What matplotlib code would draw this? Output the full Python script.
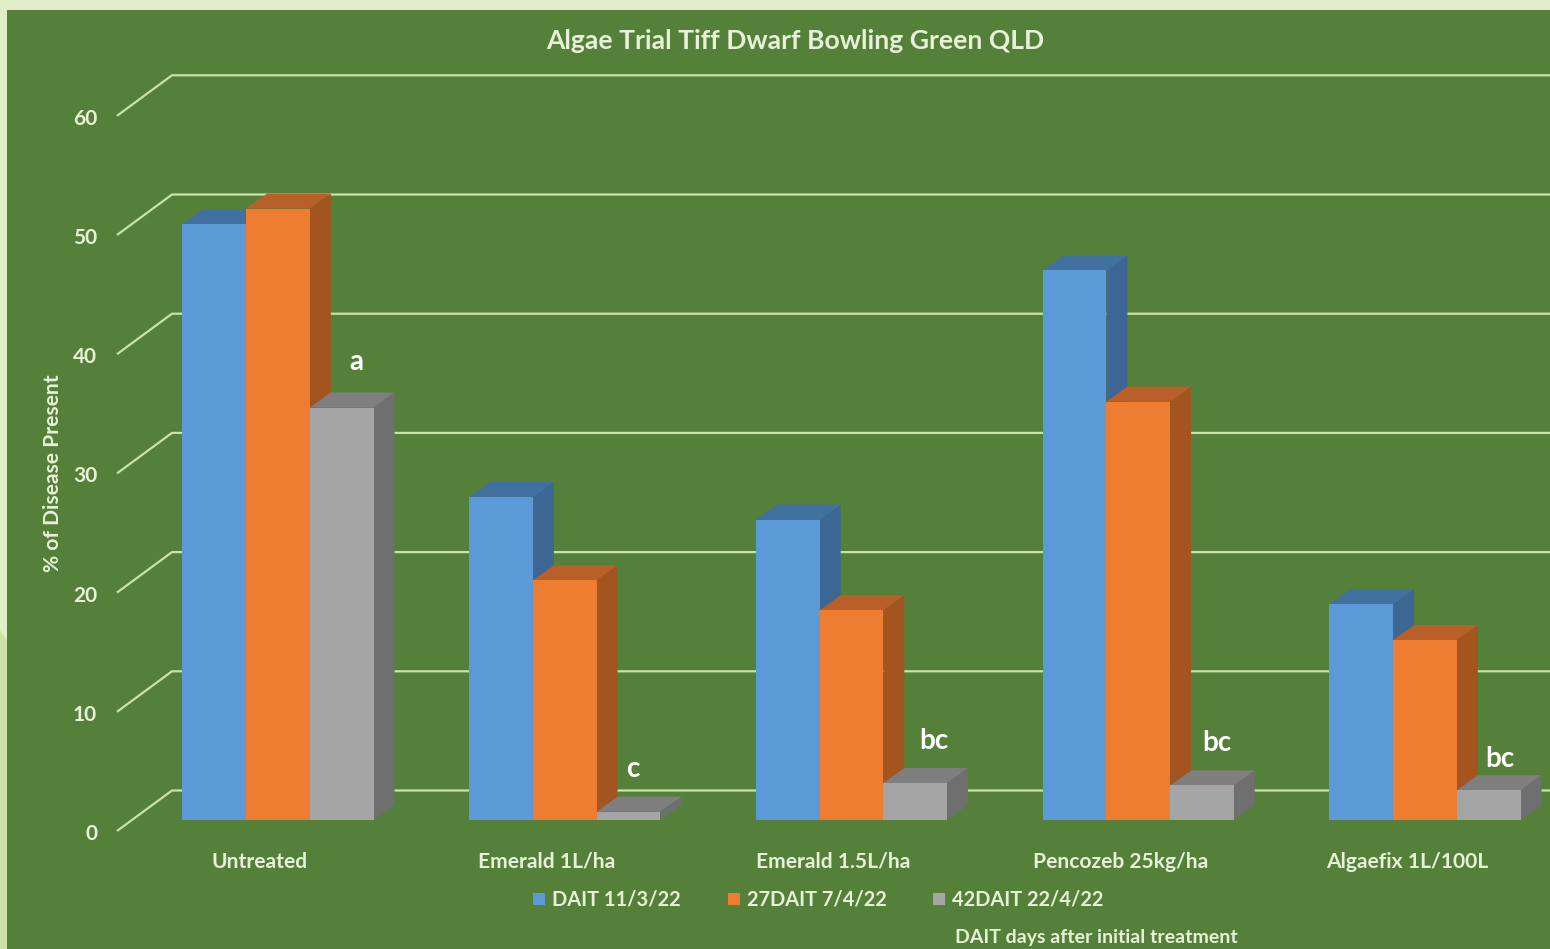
import matplotlib
matplotlib.use('Agg')
import matplotlib.pyplot as plt
from matplotlib.patches import Polygon, Rectangle, Patch

categories = ['Untreated', 'Emerald 1L/ha', 'Emerald 1.5L/ha', 'Pencozeb 25kg/ha', 'Algaefix 1L/100L']
dait_0 = [50.0, 27.1, 25.2, 46.1, 18.1]
dait_27 = [51.3, 20.1, 17.6, 35.1, 15.1]
dait_42 = [34.6, 0.7, 3.1, 2.9, 2.5]
series_names = ['DAIT 11/3/22', '27DAIT 7/4/22', '42DAIT 22/4/22']
letters = ['a', 'c', 'bc', 'bc', 'bc']
y_ticks = [0, 10, 20, 30, 40, 50, 60]

GREEN = '#55803a'
FRONT = ['#5b9ad6', '#ee7d31', '#a5a5a5']
TOPS = ['#41719f', '#b9602a', '#7f7f7f']
SIDES = ['#3c6795', '#a3541f', '#6f6f6f']
TXT = '#e6f1d8'
GRID = '#c9e2ab'

plt.rcParams['font.family'] = ['Lato', 'DejaVu Sans']

W, H = 1550, 949
GROUP = 286.75   # px between groups
UNIT = 11.92     # px per percent
X0, Y0 = 278, 820

fig = plt.figure(figsize=(W / 100, H / 100), dpi=100, facecolor='#e2eec9')
ax = fig.add_axes([0, 0, 1, 1])
ax.set_xlim(-X0 / GROUP, (W - X0) / GROUP)
ax.set_ylim((Y0 - H) / UNIT, Y0 / UNIT)
ax.axis('off')

dx = 21 / GROUP
dy = 15 / UNIT
bw = 63.7 / GROUP


def px(x):
    return (x - X0) / GROUP


def py(y):
    return (Y0 - y) / UNIT


# light border, darker on the lower left, green panel on top
ax.add_patch(Polygon([(px(0), py(630)), (px(7), py(640)), (px(7), py(949)), (px(0), py(949))],
                     fc='#d0dfa8', ec='none', zorder=0))
ax.add_patch(Rectangle((px(7), py(949)), px(1550) - px(7), py(10) - py(949), fc=GREEN, ec='none', zorder=0.5))

# gridlines with the slanted wall piece
for v in y_ticks:
    ax.plot([px(117), px(172), px(1550)], [v - 11 / UNIT, v + 29.5 / UNIT, v + 29.5 / UNIT],
            color=GRID, lw=1.6, zorder=1, solid_capstyle='butt')
    ax.text(px(97), v - 14 / UNIT, str(v), color=TXT, fontsize=15, fontweight='bold',
            ha='right', va='center', zorder=5)

# bars, left to right so each covers the side of the one before
for i, vals in enumerate([dait_0, dait_27, dait_42]):
    xs = [c + (i - 1.5) * bw for c in range(len(categories))]
    for x, v in zip(xs, vals):
        ax.add_patch(Polygon([(x, v), (x + dx, v + dy), (x + bw + dx, v + dy), (x + bw, v)],
                             fc=TOPS[i], ec='none', zorder=2 + i))
        ax.add_patch(Polygon([(x + bw, 0), (x + bw + dx, dy), (x + bw + dx, v + dy), (x + bw, v)],
                             fc=SIDES[i], ec='none', zorder=2 + i))
    ax.bar(xs, vals, width=bw, align='edge', color=FRONT[i], zorder=2 + i)

# significance letters over the grey bars
letter_dx = [15, 4, 19, 15, 11]
letter_dy = [46, 43, 42, 42, 31]
for c, (lab, v) in enumerate(zip(letters, dait_42)):
    ax.text(c + bw + letter_dx[c] / GROUP, v + letter_dy[c] / UNIT, lab, color='white',
            fontsize=20, fontweight='bold', ha='center', va='center', zorder=6)

for c, name in enumerate(categories):
    ax.text(c - 18 / GROUP, py(862), name, color=TXT, fontsize=15.1, fontweight='bold',
            ha='center', va='center', zorder=5)

ax.text(px(795), py(41), 'Algae Trial Tiff Dwarf Bowling Green QLD', color=TXT, fontsize=19.1,
        fontweight='bold', ha='center', va='center')
ax.text(px(53), py(473.5), '% of Disease Present', color=TXT, fontsize=15.1, fontweight='bold',
        rotation=90, ha='center', va='center')
ax.text(px(1096), py(937), 'DAIT days after initial treatment', color=TXT, fontsize=14,
        fontweight='bold', ha='center', va='center')

handles = [Patch(fc=FRONT[i], ec='none', label=series_names[i]) for i in range(3)]
leg = ax.legend(handles=handles, loc='center left', bbox_to_anchor=(533 / W, 1 - 900 / H), ncol=3,
                frameon=False, fontsize=14.4, handlelength=0.6, handleheight=0.6, handletextpad=0.35,
                columnspacing=2.35, borderpad=0, borderaxespad=0)
for t in leg.get_texts():
    t.set_color(TXT)
    t.set_fontweight('bold')

fig.savefig('out.png', dpi=100, facecolor=fig.get_facecolor())
